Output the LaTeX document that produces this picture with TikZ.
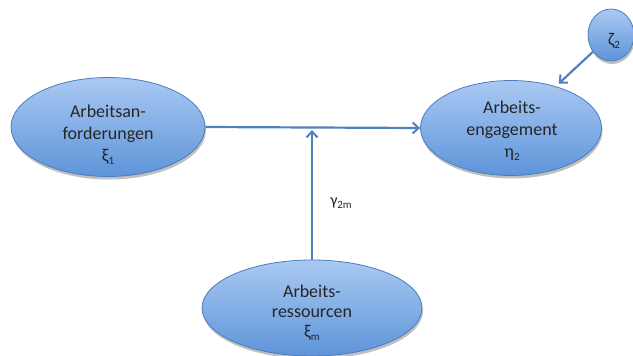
\documentclass[tikz,border=0pt]{standalone}
\usepackage{fontspec}
\setmainfont{Carlito}
\usetikzlibrary{shapes.geometric,arrows.meta,shadows}
\definecolor{edgeblue}{HTML}{4F81BD}
\definecolor{rimblue}{HTML}{4A7EBB}
\definecolor{topblue}{HTML}{A9C9F2}
\definecolor{botblue}{HTML}{5E94DA}
\newcommand{\lowsub}[1]{{\fontsize{11pt}{11pt}\selectfont\raisebox{-2.5pt}{#1}}}
\tikzset{
  construct/.style={ellipse, draw=rimblue, line width=0.8pt, inner sep=0pt,
    top color=topblue, bottom color=botblue,
    drop shadow={shadow xshift=1pt, shadow yshift=-3pt, opacity=0.25, fill=black}},
  label text/.style={align=center, font=\fontsize{18pt}{22pt}\selectfont, text=black!85, inner sep=0pt},
  path arrow/.style={draw=edgeblue, line width=2.2pt,
    -{Straight Barb[length=6pt, width=11pt, line width=2pt]}}
}
\begin{document}
\begin{tikzpicture}[x=1pt, y=-1pt]
  \useasboundingbox (0,0) rectangle (633,356);
  % latent variables
  \node[construct, minimum width=194pt, minimum height=99pt] (e1) at (108,127) {};
  \node[construct, minimum width=181pt, minimum height=95pt] (e2) at (511,128) {};
  \node[construct, minimum width=220pt, minimum height=96pt] (e3) at (312,308) {};
  \node[construct, minimum width=46pt, minimum height=52pt] (z) at (611,35) {};
  % labels inside
  \node[label text] (t1) at (108,135) {Arbeitsan-\\forderungen\\ξ\lowsub{1}};
  \node[label text] (t2) at (512,131) {Arbeits-\\engagement\\η\lowsub{2}};
  \node[label text, font=\fontsize{18pt}{20pt}\selectfont] (t3) at (312,313) {Arbeits-\\ressourcen\\ξ\lowsub{m}};
  \node[label text] (tz) at (614,41) {ζ\lowsub{2}};
  % paths
  \coordinate (j) at (e3.north |- e1.east);
  \draw[path arrow] (e1.east) -- (e2.west);
  \draw[path arrow] (e3.north) -- ([yshift=-3pt]j);
  \draw[path arrow, shorten >=4pt] (z) -- (e2);
  \node[label text, font=\fontsize{16pt}{18pt}\selectfont] (g) at (341,203) {γ\lowsub{2m}};
\end{tikzpicture}
\end{document}
